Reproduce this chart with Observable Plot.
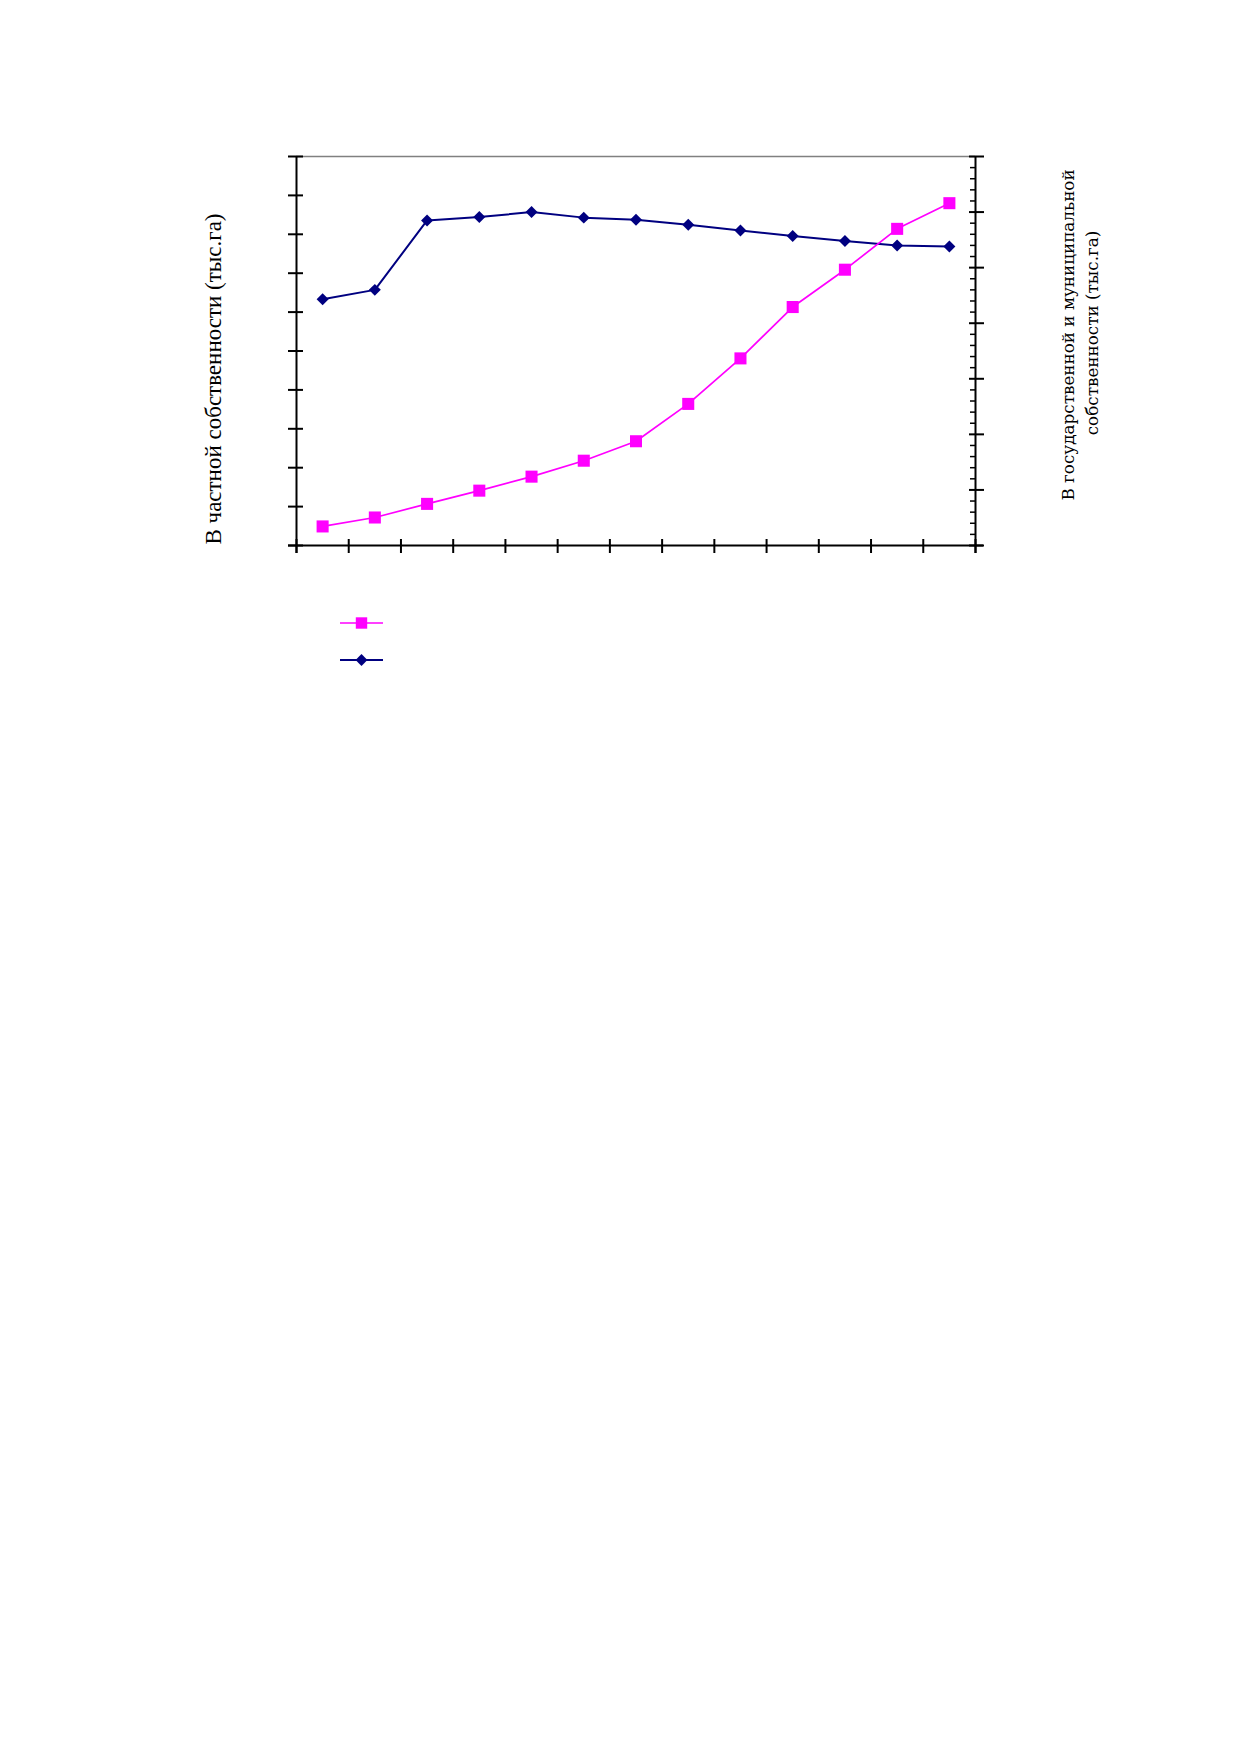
<!DOCTYPE html>
<html><head><meta charset="utf-8">
<script src="https://cdn.jsdelivr.net/npm/d3@7"></script>
<script src="https://cdn.jsdelivr.net/npm/@observablehq/plot@0.6"></script>
<style>body{margin:0;background:#fff}</style>
</head><body><div id="chart"></div>
<script>
// Categories (periods; their labels are not shown in the original chart)
const periods = [1,2,3,4,5,6,7,8,9,10,11,12,13];
// Private ownership (left axis)
const privateLand = [4.9,7.2,10.7,14.1,17.7,21.8,26.8,36.4,48.1,61.3,70.9,81.4,88.0];
// State & municipal ownership (right axis)
const stateLand = [44.3,46.0,58.5,59.1,60.0,59.0,58.6,57.7,56.7,55.7,54.8,54.0,53.8];
// Axis tick values (labels are not shown in the original)
const xTicks = [0,1,2,3,4,5,6,7,8,9,10,11,12,13];
const leftTicks = [0,10,20,30,40,50,60,70,80,90,100];
const rightMajorTicks = [0,10,20,30,40,50,60,70];
const rightMinorTicks = [2,4,6,8,12,14,16,18,22,24,26,28,32,34,36,38,42,44,46,48,52,54,56,58,62,64,66,68];
const leftMax = 100, rightMax = 70;
const legendSeries = ["В частной собственности", "В государственной и муниципальной собственности"];
const colors = ["#FF00FF", "#000080"];

const toLeft = v => v * leftMax / rightMax;
const privRows = periods.map((p, i) => ({p, i, v: privateLand[i]}));
const stateRows = periods.map((p, i) => ({p, i, v: toLeft(stateLand[i])}));
const xPos = d => d.i + 0.5;
const blank = () => "";

const W = 1239, H = 700;
const svg = Plot.plot({
  width: W, height: H,
  marginLeft: 296, marginRight: 264, marginTop: 156, marginBottom: 155,
  x: {type: "linear", domain: [0, periods.length], axis: null},
  y: {domain: [0, leftMax], axis: null},
  style: {background: "transparent", overflow: "visible"},
  marks: [
    Plot.ruleY([leftMax], {stroke: "#808080", strokeWidth: 1.5}),
    Plot.ruleY([0], {stroke: "#000", strokeWidth: 2, insetLeft: -8, insetRight: -8}),
    Plot.ruleX([0], {stroke: "#000", strokeWidth: 2, insetBottom: -8}),
    Plot.ruleX([periods.length], {stroke: "#000", strokeWidth: 2, insetBottom: -8}),
    Plot.axisX(xTicks, {anchor: "bottom", tickSize: 14, dy: -6, tickFormat: blank, label: null, strokeWidth: 2, stroke: "#000"}),
    Plot.axisY(leftTicks, {anchor: "left", tickSize: 15, dx: 7, tickFormat: blank, label: null, strokeWidth: 2, stroke: "#000"}),
    Plot.axisY(rightMajorTicks.map(toLeft), {anchor: "right", tickSize: 15, dx: -7, tickFormat: blank, label: null, strokeWidth: 2, stroke: "#000"}),
    Plot.axisY(rightMinorTicks.map(toLeft), {anchor: "right", tickSize: 6, dx: -6, tickFormat: blank, label: null, strokeWidth: 1.5, stroke: "#000"}),
    Plot.line(stateRows, {x: xPos, y: "v", stroke: colors[1], strokeWidth: 2}),
    Plot.dot(stateRows, {x: xPos, y: "v", symbol: "diamond2", r: 5.4, fill: colors[1], stroke: "none"}),
    Plot.line(privRows, {x: xPos, y: "v", stroke: colors[0], strokeWidth: 1.7}),
    Plot.dot(privRows, {x: xPos, y: "v", symbol: "square", r: 6.8, fill: colors[0], stroke: "none"})
  ]
});
document.getElementById("chart").appendChild(svg);

const s = d3.select(svg);
const serifLeft = "'Liberation Serif', 'Times New Roman', Times, serif";
const serifRight = "'DejaVu Serif', 'Liberation Serif', serif";
// Axis titles
s.append("text")
  .attr("transform", "translate(213,379) rotate(-90)")
  .attr("text-anchor", "middle").attr("dominant-baseline", "central")
  .attr("font-family", serifLeft).attr("font-size", 23).attr("fill", "#000")
  .text("В частной собственности (тыс.га)");
s.append("text")
  .attr("transform", "translate(1068,335) rotate(-90)")
  .attr("text-anchor", "middle").attr("dominant-baseline", "central")
  .attr("font-family", serifRight).attr("font-size", 16.8).attr("fill", "#000")
  .text("В государственной и муниципальной");
s.append("text")
  .attr("transform", "translate(1092,333) rotate(-90)")
  .attr("text-anchor", "middle").attr("dominant-baseline", "central")
  .attr("font-family", serifRight).attr("font-size", 16.8).attr("fill", "#000")
  .text("собственности (тыс.га)");

// Legend (symbols only, as in the original)
const legendSymbols = [d3.symbolSquare, d3.symbolDiamond2];
const legendSizes = [130, 90];
legendSeries.forEach((name, k) => {
  const g = s.append("g").attr("transform", `translate(0,${623 + k * 37})`);
  g.append("title").text(name);
  g.append("line").attr("x1", 340).attr("x2", 383).attr("y1", 0).attr("y2", 0)
    .attr("stroke", colors[k]).attr("stroke-width", k ? 2 : 1.7);
  g.append("path").attr("transform", "translate(361.5,0)")
    .attr("d", d3.symbol(legendSymbols[k], legendSizes[k])())
    .attr("fill", colors[k]);
});
</script>
</body></html>
